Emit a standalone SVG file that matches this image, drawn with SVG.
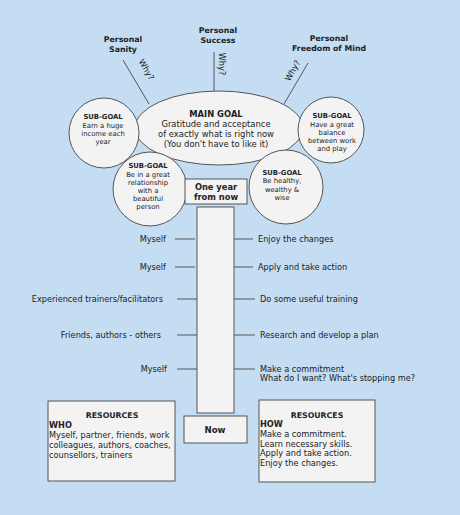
<svg xmlns="http://www.w3.org/2000/svg" width="460" height="515" viewBox="0 0 460 515">
<style>
text{font-family:"DejaVu Sans",Verdana,sans-serif;font-size:8.2px;fill:#222}
.b{font-weight:bold}
.c{text-anchor:middle}
.e{text-anchor:end}
.s{font-size:6.8px}
.t{font-size:7.8px;font-weight:bold;text-anchor:middle}
.shape{fill:#f3f3f3;stroke:#555;stroke-width:1}
.ln{stroke:#555;stroke-width:1;fill:none}
</style>
<rect width="460" height="515" fill="#c4ddf3"/>
<g id="connectors">
<line class="ln" x1="123" y1="60" x2="149" y2="104"/>
<line class="ln" x1="214" y1="52" x2="214" y2="92"/>
<line class="ln" x1="308" y1="63" x2="284" y2="104"/>
<line class="ln" x1="175" y1="239" x2="195" y2="239"/>
<line class="ln" x1="175" y1="267" x2="195" y2="267"/>
<line class="ln" x1="177" y1="299" x2="197" y2="299"/>
<line class="ln" x1="177" y1="335" x2="197" y2="335"/>
<line class="ln" x1="177" y1="369" x2="197" y2="369"/>
<line class="ln" x1="234" y1="239" x2="253" y2="239"/>
<line class="ln" x1="234" y1="267" x2="253" y2="267"/>
<line class="ln" x1="234" y1="299" x2="255" y2="299"/>
<line class="ln" x1="234" y1="335" x2="255" y2="335"/>
<line class="ln" x1="234" y1="369" x2="255" y2="369"/>
<text class="c" transform="translate(144,71) rotate(60)">Why?</text>
<text class="c" transform="translate(219,64) rotate(90)">Why?</text>
<text class="c" transform="translate(295,72) rotate(-60)">Why?</text>
</g>
<g id="top-labels">
<text class="t" x="123" y="42">Personal</text>
<text class="t" x="123" y="52">Sanity</text>
<text class="t" x="218" y="33">Personal</text>
<text class="t" x="218" y="43">Success</text>
<text class="t" x="329" y="41">Personal</text>
<text class="t" x="329" y="51">Freedom of Mind</text>
</g>
<g id="main-goal">
<ellipse class="shape" cx="219" cy="128" rx="84" ry="37"/>
<text class="t" x="216" y="117" style="font-size:8.4px">MAIN GOAL</text>
<text class="c" x="216" y="127" style="font-size:8.4px">Gratitude and acceptance</text>
<text class="c" x="216" y="137" style="font-size:8.4px">of exactly what is right now</text>
<text class="c" x="216" y="147" style="font-size:8.4px">(You don't have to like it)</text>
</g>
<g id="subgoal-income">
<circle class="shape" cx="104" cy="133" r="35"/>
<text class="s b c" x="103" y="119">SUB-GOAL</text>
<text class="s c" x="103" y="128">Earn a huge</text>
<text class="s c" x="103" y="136">income each</text>
<text class="s c" x="103" y="144">year</text>
</g>
<g id="subgoal-balance">
<circle class="shape" cx="331" cy="130" r="33"/>
<text class="s b c" x="332" y="118">SUB-GOAL</text>
<text class="s c" x="332" y="127">Have a great</text>
<text class="s c" x="332" y="135">balance</text>
<text class="s c" x="332" y="143">between work</text>
<text class="s c" x="332" y="151">and play</text>
</g>
<g id="subgoal-relationship">
<circle class="shape" cx="150" cy="189" r="37"/>
<text class="s b c" x="148" y="168">SUB-GOAL</text>
<text class="s c" x="148" y="177">Be in a great</text>
<text class="s c" x="148" y="185">relationship</text>
<text class="s c" x="148" y="193">with a</text>
<text class="s c" x="148" y="201">beautiful</text>
<text class="s c" x="148" y="209">person</text>
</g>
<g id="subgoal-healthy">
<circle class="shape" cx="286" cy="187" r="37"/>
<text class="s b c" x="282" y="175">SUB-GOAL</text>
<text class="s c" x="282" y="183">Be healthy,</text>
<text class="s c" x="282" y="192">wealthy &amp;</text>
<text class="s c" x="282" y="200">wise</text>
</g>
<g id="pillar">
<rect class="shape" x="197" y="207" width="37" height="206"/>
</g>
<g id="one-year">
<rect class="shape" x="185" y="179" width="62" height="25"/>
<text class="b c" x="216" y="190" style="font-size:8.3px">One year</text>
<text class="b c" x="216" y="200" style="font-size:8.3px">from now</text>
</g>
<g id="now">
<rect class="shape" x="184" y="416" width="63" height="27"/>
<text class="t" x="215" y="433" style="font-size:8.6px">Now</text>
</g>
<g id="who-labels">
<text class="e" x="166" y="242">Myself</text>
<text class="e" x="166" y="270">Myself</text>
<text class="e" x="163" y="302">Experienced trainers/facilitators</text>
<text class="e" x="161" y="338">Friends, authors - others</text>
<text class="e" x="167" y="372">Myself</text>
</g>
<g id="how-labels">
<text x="258" y="242">Enjoy the changes</text>
<text x="258" y="270">Apply and take action</text>
<text x="260" y="302">Do some useful training</text>
<text x="260" y="338">Research and develop a plan</text>
<text x="260" y="372">Make a commitment</text>
<text x="260" y="381">What do I want? What's stopping me?</text>
</g>
<g id="resources-who">
<rect class="shape" x="48" y="401" width="127" height="80"/>
<text class="t" x="112" y="418">RESOURCES</text>
<text class="b" x="49" y="428">WHO</text>
<text x="49" y="438">Myself, partner, friends, work</text>
<text x="49" y="448">colleagues, authors, coaches,</text>
<text x="49" y="458">counsellors, trainers</text>
</g>
<g id="resources-how">
<rect class="shape" x="259" y="400" width="116" height="82"/>
<text class="t" x="317" y="418">RESOURCES</text>
<text class="b" x="260" y="427">HOW</text>
<text x="260" y="437">Make a commitment.</text>
<text x="260" y="447">Learn necessary skills.</text>
<text x="260" y="456">Apply and take action.</text>
<text x="260" y="466">Enjoy the changes.</text>
</g>
</svg>
